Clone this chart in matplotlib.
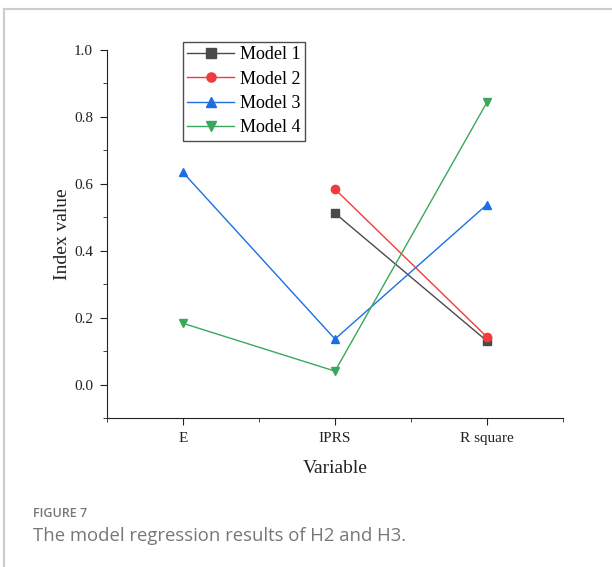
import numpy as np
import matplotlib
matplotlib.use("Agg")
import matplotlib.pyplot as plt
from matplotlib.lines import Line2D
from matplotlib.ticker import MultipleLocator, FixedLocator

# data
categories = ["E", "IPRS", "R square"]
model1 = [np.nan, 0.512, 0.130]
model2 = [np.nan, 0.584, 0.142]
model3 = [0.634, 0.136, 0.538]
model4 = [0.183, 0.040, 0.844]

series = [
    ("Model 1", model1, "#4a4a4a", "s"),
    ("Model 2", model2, "#f03c3c", "o"),
    ("Model 3", model3, "#1c6fe3", "^"),
    ("Model 4", model4, "#3aa85c", "v"),
]

plt.rcParams['font.family'] = ['Liberation Serif', 'DejaVu Serif']

fig = plt.figure(figsize=(6.12, 5.67), dpi=100)
W, H = 612, 567

# outer card frame
fig.add_artist(Line2D([4 / W, 4 / W], [0, 1 - 9 / H], color="#cccccc", lw=1.5))
fig.add_artist(Line2D([4 / W, 1], [1 - 9 / H, 1 - 9 / H], color="#cccccc", lw=1.5))

ax = fig.add_axes([107 / W, 1 - 418 / H, (563 - 107) / W, (418 - 50) / H])
x = np.arange(1, len(categories) + 1)
for name, vals, col, mk in series:
    ax.plot(x, vals, color=col, lw=1, marker=mk, markersize=6, label=name)

ax.set_xlim(0.5, 3.5)
ax.set_ylim(-0.1, 1.0)
ax.spines["top"].set_visible(False)
ax.spines["right"].set_visible(False)
ax.xaxis.set_major_locator(FixedLocator(x))
ax.xaxis.set_minor_locator(FixedLocator([0.5, 1.5, 2.5, 3.5]))
ax.set_xticklabels(categories)
ax.yaxis.set_major_locator(MultipleLocator(0.2))
ax.yaxis.set_minor_locator(MultipleLocator(0.1))
ax.set_yticks([0.0, 0.2, 0.4, 0.6, 0.8, 1.0])
ax.set_yticklabels(["0.0", "0.2", "0.4", "0.6", "0.8", "1.0"])
ax.tick_params(which="both", direction="out", labelsize=11, color="#222222", labelcolor="#222222")
ax.tick_params(which="major", length=5, pad=5)
ax.tick_params(which="minor", length=3)
for s in ["left", "bottom"]:
    ax.spines[s].set_color("#222222")
ax.set_xlabel("Variable", fontsize=14, labelpad=11, color="#222222")
ax.set_ylabel("Index value", fontsize=14, labelpad=2, color="#222222")

leg = ax.legend(loc="upper left", bbox_to_anchor=(0.166, 1.022), fontsize=13,
                frameon=True, fancybox=False, edgecolor="#222222",
                handlelength=2.6, handletextpad=0.3, borderpad=0.25,
                labelspacing=0.4, borderaxespad=0, markerscale=1.1)
leg.get_frame().set_linewidth(1.0)

fig.text(33 / W, 1 - 517 / H, "FIGURE 7", fontsize=9, color="#777777",
         family=["Open Sans", "DejaVu Sans"], fontweight="semibold")
fig.text(33 / W, 1 - 541 / H, "The model regression results of H2 and H3.", fontsize=13.3,
         color="#777777", family=["Open Sans", "DejaVu Sans"])

fig.savefig("out.png", dpi=100)
